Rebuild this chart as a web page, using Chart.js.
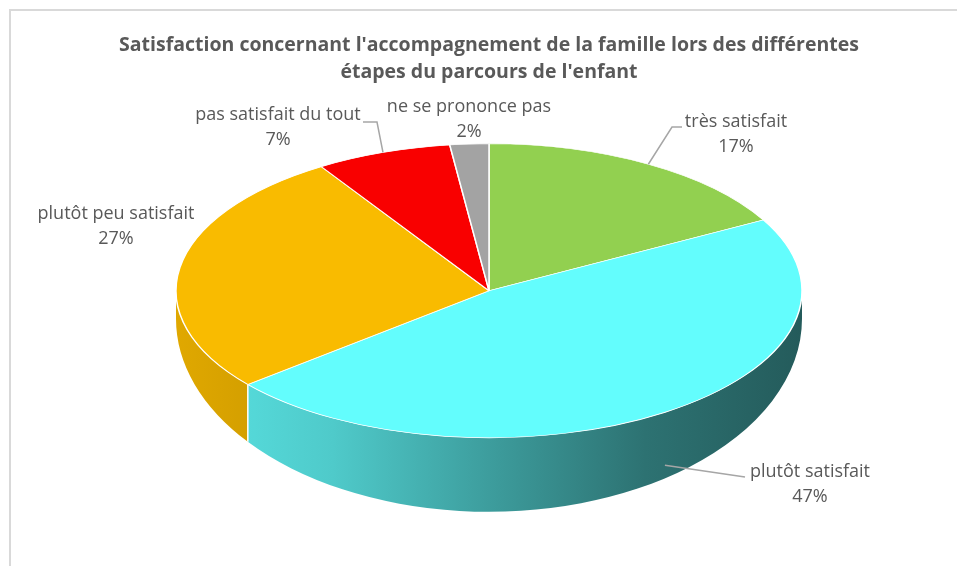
<!DOCTYPE html>
<html>
<head>
<meta charset="utf-8">
<script src="https://cdn.jsdelivr.net/npm/chart.js@4.4.1/dist/chart.umd.min.js"></script>
<style>
  html, body { margin: 0; padding: 0; background: #fff; overflow: hidden; }
  #wrap { position: relative; width: 957px; height: 566px; }
  #frame { position: absolute; left: 9px; top: 9px; width: 1000px; height: 600px;
           border-top: 2px solid #d9d9d9; border-left: 2px solid #d9d9d9; }
  canvas { position: absolute; left: 0; top: 0; }
</style>
</head>
<body>
<div id="wrap">
  <div id="frame"></div>
  <canvas id="pieChart" width="957" height="566"></canvas>
</div>
<script>
const categories = ["très satisfait", "plutôt satisfait", "plutôt peu satisfait", "pas satisfait du tout", "ne se prononce pas"];
const percents = [17, 47, 27, 7, 2];
const titleLines = [
  "Satisfaction concernant l'accompagnement de la famille lors des différentes",
  "étapes du parcours de l'enfant"
];

const sliceColors = ["#92D050", "#63FDFD", "#F9BB00", "#F90000", "#A3A3A3"];
const tilt = 147 / 313;   // vertical squash of the pie top
const depth = 74;         // thickness of the pie side at the front
const sideDrop = 28;      // thickness at the far left / right edges
// brightness of the side wall from left to right
const wallShades = [[0, 0.9], [0.25, 0.8], [0.5, 0.62], [0.75, 0.45], [1, 0.36]];

// where each data label sits, with the bend points of its leader line
const labelLayout = [
  { x: 736, y: 122, lead: [[672, 127], [682, 127]] },
  { x: 810, y: 472, lead: [[745, 477]] },
  { x: 116, y: 214, lead: null },
  { x: 278, y: 115, lead: [[377, 122], [363, 122]] },
  { x: 469, y: 107, lead: null }
];

function shade(hex, f) {
  const n = parseInt(hex.slice(1), 16);
  const r = Math.round(((n >> 16) & 255) * f);
  const g = Math.round(((n >> 8) & 255) * f);
  const b = Math.round((n & 255) * f);
  return `rgb(${r},${g},${b})`;
}

// outline of the pie bottom, a bit lower and taller than the top to fake perspective
function bottomPoint(cx, cy, rx, ry, t) {
  return [cx + rx * Math.cos(t), cy + sideDrop + (ry + depth - sideDrop) * Math.sin(t)];
}

const pie3d = {
  id: "pie3d",
  beforeDatasetsDraw(chart) {
    const ctx = chart.ctx;
    const arcs = chart.getDatasetMeta(0).data;
    const cx = arcs[0].x, cy = arcs[0].y, rx = arcs[0].outerRadius;
    const ry = rx * tilt;
    const ryb = ry + depth - sideDrop;

    // side walls of the front half
    arcs.forEach((arc, i) => {
      const a = Math.max(arc.startAngle, 0);
      const b = Math.min(arc.endAngle, Math.PI);
      if (a >= b) return;
      const grad = ctx.createLinearGradient(cx - rx, 0, cx + rx, 0);
      wallShades.forEach(([t, f]) => grad.addColorStop(t, shade(sliceColors[i], f)));
      ctx.beginPath();
      ctx.ellipse(cx, cy, rx, ry, 0, a, b, false);
      ctx.ellipse(cx, cy + sideDrop, rx, ryb, 0, b, a, true);
      ctx.closePath();
      ctx.fillStyle = grad;
      ctx.fill();
    });
    // seams between walls
    ctx.strokeStyle = "#ffffff";
    ctx.lineWidth = 1.5;
    arcs.forEach(arc => {
      const t = arc.endAngle;
      if (t > 0 && t < Math.PI) {
        const [bx, by] = bottomPoint(cx, cy, rx, ry, t);
        ctx.beginPath();
        ctx.moveTo(cx + rx * Math.cos(t), cy + ry * Math.sin(t));
        ctx.lineTo(bx, by);
        ctx.stroke();
      }
    });

    // squash the pie into an ellipse
    ctx.save();
    ctx.translate(cx, cy);
    ctx.scale(1, tilt);
    ctx.translate(-cx, -cy);
  },
  afterDatasetsDraw(chart) {
    const ctx = chart.ctx;
    ctx.restore();

    const arcs = chart.getDatasetMeta(0).data;
    const cx = arcs[0].x, cy = arcs[0].y, rx = arcs[0].outerRadius;
    const ry = rx * tilt;

    arcs.forEach((arc, i) => {
      const lay = labelLayout[i];
      if (lay.lead) {
        const m = (arc.startAngle + arc.endAngle) / 2;
        const sx = cx + rx * Math.cos(m);
        let sy = cy + ry * Math.sin(m);
        if (Math.sin(m) > 0) sy += (bottomPoint(cx, cy, rx, ry, m)[1] - sy) * 0.8;
        ctx.beginPath();
        ctx.moveTo(sx, sy);
        lay.lead.forEach(([px, py]) => ctx.lineTo(px, py));
        ctx.strokeStyle = "#a6a6a6";
        ctx.lineWidth = 1.5;
        ctx.stroke();
      }
      ctx.fillStyle = "#595959";
      ctx.font = "18px 'Open Sans'";
      ctx.textAlign = "center";
      ctx.textBaseline = "middle";
      ctx.fillText(categories[i], lay.x, lay.y);
      ctx.fillText(percents[i] + "%", lay.x, lay.y + 25);
    });
  }
};

new Chart(document.getElementById("pieChart"), {
  type: "pie",
  data: {
    labels: categories,
    datasets: [{
      data: percents,
      backgroundColor: sliceColors,
      borderColor: "#ffffff",
      borderWidth: 1.5,
      radius: 313,
      clip: false
    }]
  },
  options: {
    responsive: false,
    animation: false,
    events: [],
    layout: { padding: { left: 21, top: 14, bottom: 78 } },
    plugins: {
      legend: { display: false },
      tooltip: { enabled: false },
      title: {
        display: true,
        text: titleLines,
        color: "#595959",
        font: { family: "'Open Sans'", size: 19.5, weight: "bold", lineHeight: 1.385 },
        padding: { top: 17.5, bottom: 8 }
      }
    }
  },
  plugins: [pie3d]
});
</script>
</body>
</html>
